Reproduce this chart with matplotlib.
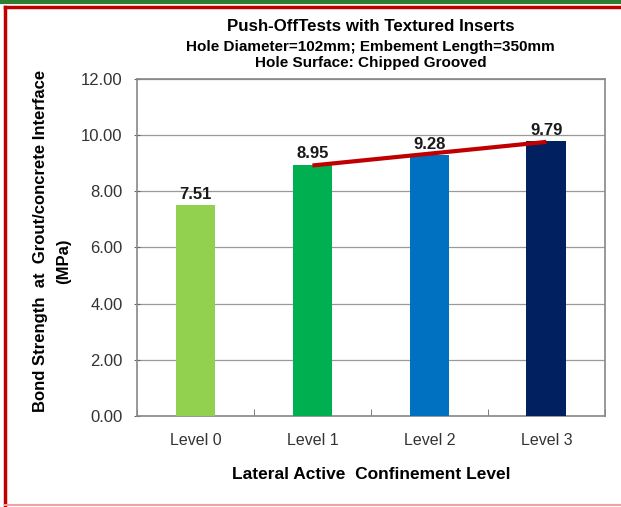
import numpy as np
import matplotlib.pyplot as plt
from matplotlib.lines import Line2D

plt.rcParams['font.family'] = ['Liberation Sans', 'DejaVu Sans']

levels = ["Level 0", "Level 1", "Level 2", "Level 3"]
strength = [7.51, 8.95, 9.28, 9.79]
bar_colors = ["#92D050", "#00B050", "#0070C0", "#002060"]
yticks = [0, 2, 4, 6, 8, 10, 12]

fig = plt.figure(figsize=(6.21, 5.07), dpi=100)
ax = fig.add_axes([0.2206, 0.1795, 0.7534, 0.6647])

x = np.arange(len(levels))
ax.bar(x, strength, width=0.34, color=bar_colors, zorder=3)
for xi, v in zip(x, strength):
    ax.text(xi, v + 0.12, f"{v:.2f}", ha="center", va="bottom",
            fontsize=12, fontweight="bold", color="#1a1a1a", zorder=4)

# linear trend over the confined levels
xt = x[1:]
k, b = np.polyfit(xt, strength[1:], 1)
ax.plot(xt[[0, -1]], k * xt[[0, -1]] + b, color="#C00000", lw=3, zorder=5,
        solid_capstyle="butt")

ax.set_xlim(-0.5, 3.5)
ax.set_ylim(0, 12)
ax.set_yticks(yticks)
ax.set_yticklabels([f"{t:.2f}" for t in yticks], fontsize=12, color="#333333")
ax.set_xticks(x)
ax.set_xticklabels(levels, fontsize=11.5, color="#333333")
ax.set_xticks(np.arange(-0.5, 4, 1), minor=True)
ax.tick_params(axis="x", which="major", length=0, pad=12)
ax.tick_params(axis="x", which="minor", length=5, direction="in", color="#666666")
ax.tick_params(axis="y", length=5, direction="inout", color="#666666", pad=8)
ax.grid(axis="y", color="#999999", lw=0.9, zorder=0)
for s in ax.spines.values():
    s.set_color("#888888")
    s.set_linewidth(1.2)

ax.set_xlabel("Lateral Active  Confinement Level", fontsize=12.5,
              fontweight="bold", labelpad=14)
fig.text(0.066, 0.525, "Bond Strength  at  Grout/concrete Interface", rotation=90,
         ha="center", va="center", fontsize=12, fontweight="bold")
fig.text(0.102, 0.485, "(MPa)", rotation=90, ha="center", va="center",
         fontsize=12, fontweight="bold")

fig.text(0.597, 0.947, "Push-OffTests with Textured Inserts", ha="center",
         va="center", fontsize=12.2, fontweight="bold")
fig.text(0.597, 0.907, "Hole Diameter=102mm; Embement Length=350mm", ha="center",
         va="center", fontsize=11, fontweight="bold")
fig.text(0.597, 0.876, "Hole Surface: Chipped Grooved", ha="center",
         va="center", fontsize=11, fontweight="bold")

# frame around the slide
fig.add_artist(Line2D([0, 1], [0.997, 0.997], color="#2E7D32", lw=3))
fig.add_artist(Line2D([0.008, 1], [0.986, 0.986], color="#C00000", lw=2.5))
fig.add_artist(Line2D([0.008, 0.008], [0.0, 0.986], color="#C00000", lw=2.5))
fig.add_artist(Line2D([0.008, 1], [0.004, 0.004], color="#F4A0A0", lw=1.5))

fig.savefig("out.png", dpi=100)
